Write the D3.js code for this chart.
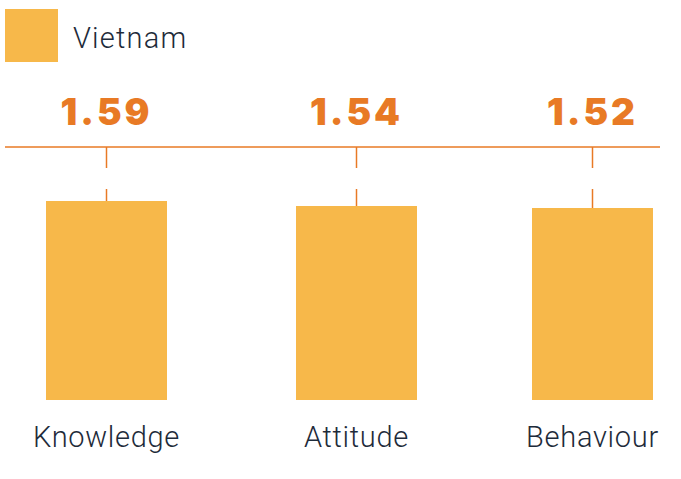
<!DOCTYPE html>
<html><head><meta charset="utf-8">
<script src="https://cdn.jsdelivr.net/npm/d3@7"></script>
<style>body{margin:0;background:#fff}svg{display:block}</style>
</head><body>
<script>
const categories = ["Knowledge", "Attitude", "Behaviour"];
const values = [1.59, 1.54, 1.52];
const valueLabels = ["1.59", "1.54", "1.52"];
const seriesName = "Vietnam";

const W = 681, H = 479;
const barColor = "#f7b84a", accent = "#e87a25", textColor = "#1e2b3a";
const lightFont = "Roboto, 'Open Sans', sans-serif";
const heavyFont = "Inter, Roboto, sans-serif";

const svg = d3.select("body").append("svg").attr("width", W).attr("height", H);

const x = d3.scaleOrdinal().domain(categories).range([106.5, 356.5, 592.5]);
const y = d3.scaleLinear().domain([-0.4, 1.6]).range([400, 200]);
const barW = 121;

// legend
svg.append("rect").attr("x", 5).attr("y", 9).attr("width", 53).attr("height", 53).attr("fill", barColor);
svg.append("text").attr("x", 73).attr("y", 48).text(seriesName)
  .attr("font-family", lightFont).attr("font-weight", 300).attr("font-size", 29)
  .attr("letter-spacing", 1.2).attr("fill", textColor);

// horizontal line
svg.append("line").attr("x1", 5).attr("x2", 660).attr("y1", 147).attr("y2", 147)
  .attr("stroke", accent).attr("stroke-width", 1.5);

const g = svg.selectAll("g.cat").data(categories).join("g").attr("class", "cat");

g.append("rect")
  .attr("x", d => x(d) - barW / 2).attr("width", barW)
  .attr("y", (d, i) => y(values[i])).attr("height", (d, i) => y.range()[0] - y(values[i]))
  .attr("fill", barColor);

g.append("line").attr("x1", d => x(d)).attr("x2", d => x(d)).attr("y1", 147).attr("y2", 168)
  .attr("stroke", accent).attr("stroke-width", 1.5);
g.append("line").attr("x1", d => x(d)).attr("x2", d => x(d)).attr("y1", 189).attr("y2", (d, i) => y(values[i]))
  .attr("stroke", accent).attr("stroke-width", 1.5);

g.append("text").attr("x", d => x(d)).attr("y", 125).attr("text-anchor", "middle")
  .text((d, i) => valueLabels[i])
  .attr("font-family", heavyFont).attr("font-weight", 900).attr("font-size", 37)
  .attr("letter-spacing", 3).attr("fill", accent);

g.append("text").attr("x", d => x(d)).attr("y", 447).attr("text-anchor", "middle")
  .text(d => d)
  .attr("font-family", lightFont).attr("font-weight", 300).attr("font-size", 29)
  .attr("letter-spacing", 0.7).attr("fill", textColor);
</script>
</body></html>
